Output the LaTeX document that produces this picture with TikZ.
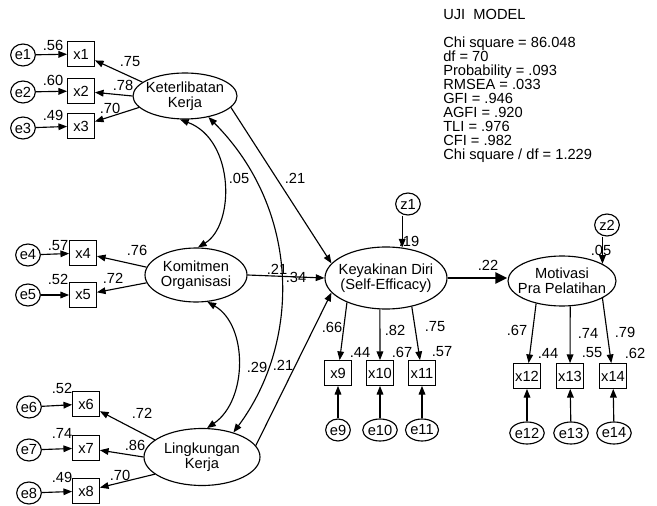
\documentclass[tikz,border=0pt]{standalone}
\usepackage{fontspec}
\setmainfont{Liberation Sans}
\usetikzlibrary{arrows.meta,shapes.geometric}
\begin{document}
\begin{tikzpicture}[x=0.75pt,y=-0.75pt,
  every node/.style={font=\fontsize{11}{11}\selectfont},
  lat/.style={ellipse,draw,line width=0.85pt,inner sep=0pt},
  ltxt/.style={align=center,font=\fontsize{11}{11}\selectfont},
  obs/.style={rectangle,draw,line width=0.85pt,minimum width=20pt,minimum height=18.5pt,inner sep=0pt},
  err/.style={ellipse,draw,line width=0.85pt,minimum width=18.5pt,minimum height=16.5pt,inner sep=0pt},
  arr/.style={-{Triangle[length=6.5pt,width=5pt]},line width=0.85pt},
  cov/.style={{Triangle[length=6.5pt,width=5pt]}-{Triangle[length=6.5pt,width=5pt]},line width=0.85pt},
  bigarr/.style={-{Triangle[length=9pt,width=8pt]},line width=2.2pt},
  lbl/.style={inner sep=0pt}
]
\useasboundingbox (0,0) rectangle (657,506);

% latent variables
\node[lat,minimum width=78pt,minimum height=34.5pt,label={[ltxt]center:Keterlibatan\\Kerja}] (KK) at (185,96) {};
\node[lat,minimum width=76.5pt,minimum height=40.5pt,label={[ltxt]center:Komitmen\\Organisasi}] (KO) at (196,275) {};
\node[lat,minimum width=87pt,minimum height=42.75pt,label={[ltxt]center:Lingkungan\\Kerja}] (LK) at (202,457) {};
\node[lat,minimum width=91.5pt,minimum height=46.5pt,label={[ltxt]center:Keyakinan Diri\\(Self-Efficacy)}] (KD) at (386,278) {};
\node[lat,minimum width=81pt,minimum height=37.5pt,label={[ltxt]center:Motivasi\\Pra Pelatihan}] (MP) at (562,281) {};

% observed
\node[obs] (x1) at (81,54) {x1};
\node[obs] (x2) at (81,91) {x2};
\node[obs] (x3) at (81,126) {x3};
\node[obs] (x4) at (83,253) {x4};
\node[obs] (x5) at (83,295) {x5};
\node[obs] (x6) at (86,404) {x6};
\node[obs] (x7) at (86,448) {x7};
\node[obs] (x8) at (86,491) {x8};
\node[obs] (x9) at (338,373) {x9};
\node[obs] (x10) at (380,373) {x10};
\node[obs] (x11) at (422,373) {x11};
\node[obs] (x12) at (527,376) {x12};
\node[obs] (x13) at (570,376) {x13};
\node[obs] (x14) at (613,376) {x14};

% errors
\node[err] (e1) at (23,55) {e1};
\node[err] (e2) at (23,92) {e2};
\node[err] (e3) at (23,128) {e3};
\node[err] (e4) at (28,255) {e4};
\node[err] (e5) at (28,295) {e5};
\node[err] (e6) at (29,407) {e6};
\node[err] (e7) at (29,450) {e7};
\node[err] (e8) at (29,493) {e8};
\node[err] (e9) at (338,430) {e9};
\node[err] (e10) at (380,430) {e10};
\node[err] (e11) at (422,430) {e11};
\node[err] (e12) at (527,433) {e12};
\node[err] (e13) at (571,433) {e13};
\node[err] (e14) at (614,433) {e14};
\node[err] (z1) at (408,204) {z1};
\node[err] (z2) at (607,225) {z2};

% error arrows
\foreach \i in {1,...,14}{\draw[arr] (e\i) -- (x\i);}
\draw[arr] (KD.62 |- z1.south) -- (KD.62);
\draw[arr] (MP.23 |- z2.south) -- (MP.23);

% loadings
\draw[arr] (KK.162) -- (x1);
\draw[arr] (KK.west) -- (x2);
\draw[arr] (KK.194) -- (x3);
\draw[arr] (KO.171) -- (x4);
\draw[arr] (KO.189) -- (x5);
\draw[arr] (LK.160) -- (x6);
\draw[arr] (LK.west) -- (x7);
\draw[arr] (LK.200) -- (x8);
\draw[arr] (KD.212) -- (x9);
\draw[arr] (KD.259) -- (x10);
\draw[arr] (KD.-48) -- (x11);
\draw[arr] (MP.221) -- (x12);
\draw[arr] (MP.-72) -- (x13);
\draw[arr] (MP.-23) -- (x14);

% structural paths
\draw[arr] (KK.-14) -- (KD.165);
\draw[arr] (KO.east) -- (KD.west);
\draw[arr] (LK.12) -- (KD.195);
\draw[bigarr] (KD.east) -- (KD.east -| MP.west);

% covariances
\draw[cov] (KK.258) .. controls (235,140) and (235,225) .. (KO.86);
\draw[cov] (KK.-42) .. controls (301,210) and (301,342) .. (LK.38);
\draw[cov] (KO.-67) .. controls (248,325) and (248,400) .. (LK.80);

% labels
\node[lbl] (l1) at (53,45) {.56};
\node[lbl] (l2) at (53,80) {.60};
\node[lbl] (l3) at (53,115) {.49};
\node[lbl] (l4) at (130,62) {.75};
\node[lbl] (l5) at (123,85) {.78};
\node[lbl] (l6) at (110,108) {.70};
\node[lbl] (l7) at (58,246) {.57};
\node[lbl] (l8) at (58,279) {.52};
\node[lbl] (l9) at (137,250) {.76};
\node[lbl] (l10) at (113,278) {.72};
\node[lbl] (l11) at (62,388) {.52};
\node[lbl] (l12) at (62,433) {.74};
\node[lbl] (l13) at (62,477) {.49};
\node[lbl] (l14) at (142,413) {.72};
\node[lbl] (l15) at (135,445) {.86};
\node[lbl] (l16) at (120,475) {.70};
\node[lbl] (l17) at (239,178) {.05};
\node[lbl] (l18) at (295,178) {.21};
\node[lbl] (l19) at (277,269) {.21};
\node[lbl] (l20) at (296,277) {.34};
\node[lbl] (l21) at (257,367) {.29};
\node[lbl] (l22) at (283,365) {.21};
\node[lbl] (l23) at (409,241) {.19};
\node[lbl] (l24) at (488,265) {.22};
\node[lbl] (l25) at (332,327) {.66};
\node[lbl] (l26) at (395,330) {.82};
\node[lbl] (l27) at (435,327) {.75};
\node[lbl] (l28) at (360,352) {.44};
\node[lbl] (l29) at (402,352) {.67};
\node[lbl] (l30) at (442,352) {.57};
\node[lbl] (l31) at (601,250) {.05};
\node[lbl] (l32) at (517,330) {.67};
\node[lbl] (l33) at (588,333) {.74};
\node[lbl] (l34) at (625,332) {.79};
\node[lbl] (l35) at (548,353) {.44};
\node[lbl] (l36) at (592,353) {.55};
\node[lbl] (l37) at (635,353) {.62};

% fit statistics
\node[lbl,anchor=north west] (title) at (443,9) {UJI\ \ MODEL};
\node[lbl,anchor=north west,align=left,font=\fontsize{11}{10.5}\selectfont] (stats) at (443,37)
  {Chi square = 86.048\\df = 70\\Probability = .093\\RMSEA = .033\\GFI = .946\\AGFI = .920\\TLI = .976\\CFI = .982\\Chi square / df = 1.229};
\end{tikzpicture}
\end{document}
